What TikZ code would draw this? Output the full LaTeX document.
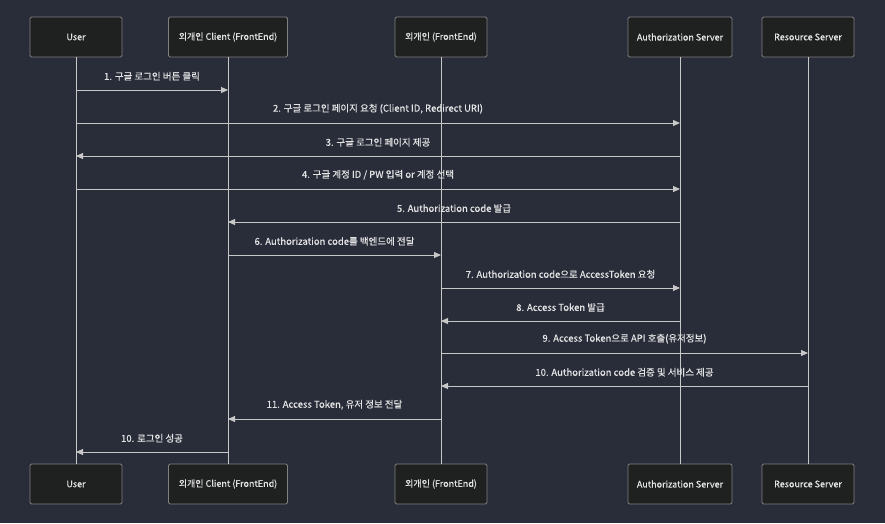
\documentclass[tikz,border=0pt]{standalone}
\usepackage{fontspec}
\setmainfont{Noto Sans CJK KR}[FakeBold=0.4]
\usetikzlibrary{arrows.meta}
\definecolor{bg}{RGB}{41,45,58}
\definecolor{boxfill}{RGB}{31,32,32}
\definecolor{boxline}{RGB}{128,128,128}
\definecolor{ln}{RGB}{200,200,200}
\definecolor{txt}{RGB}{228,228,228}
\begin{document}
\begin{tikzpicture}[x=1pt,y=-1pt,
  actor/.style={draw=boxline, fill=boxfill, rounded corners=1.5pt, minimum height=40pt,
    text=txt, font=\fontsize{9}{11}\selectfont, line width=0.8pt, inner sep=0pt},
  life/.style={draw=ln, line width=0.9pt},
  msg/.style={draw=ln, line width=0.9pt, -{Triangle[length=7pt,width=6pt]}},
  lbl/.style={text=txt, font=\fontsize{9.5}{11}\selectfont, inner sep=0pt}]
\fill[bg] (0,0) rectangle (885,523);
\useasboundingbox (0,0) rectangle (885,523);
% top actors
\node[actor, minimum width=92pt] (uT) at (76,37) {User};
\node[actor, minimum width=119pt] (cT) at (228,37) {외개인 Client (FrontEnd)};
\node[actor, minimum width=92pt] (fT) at (441,37) {외개인 (FrontEnd)};
\node[actor, minimum width=104pt] (aT) at (680,37) {Authorization Server};
\node[actor, minimum width=92pt] (rT) at (808,37) {Resource Server};
% bottom actors
\node[actor, minimum width=92pt] (uB) at (76,484) {User};
\node[actor, minimum width=119pt] (cB) at (228,484) {외개인 Client (FrontEnd)};
\node[actor, minimum width=92pt] (fB) at (441,484) {외개인 (FrontEnd)};
\node[actor, minimum width=104pt] (aB) at (680,484) {Authorization Server};
\node[actor, minimum width=92pt] (rB) at (808,484) {Resource Server};
% lifelines
\draw[life] (uT) -- (uB);
\draw[life] (cT) -- (cB);
\draw[life] (fT) -- (fB);
\draw[life] (aT) -- (aB);
\draw[life] (rT) -- (rB);
% message rows
\coordinate (m1) at (0,90);
\coordinate (m2) at (0,123);
\coordinate (m3) at (0,156);
\coordinate (m4) at (0,189);
\coordinate (m5) at (0,222);
\coordinate (m6) at (0,255);
\coordinate (m7) at (0,288);
\coordinate (m8) at (0,321);
\coordinate (m9) at (0,353);
\coordinate (m10) at (0,386);
\coordinate (m11) at (0,419);
\coordinate (m12) at (0,452);
\draw[msg] (uT |- m1) -- node[lbl, above=9pt] {1. 구글 로그인 버튼 클릭} (cT |- m1);
\draw[msg] (uT |- m2) -- node[lbl, above=9pt] {2. 구글 로그인 페이지 요청 (Client ID, Redirect URI)} (aT |- m2);
\draw[msg] (aT |- m3) -- node[lbl, above=9pt] {3. 구글 로그인 페이지 제공} (uT |- m3);
\draw[msg] (uT |- m4) -- node[lbl, above=9pt] {4. 구글 계정 ID / PW 입력 or 계정 선택} (aT |- m4);
\draw[msg] (aT |- m5) -- node[lbl, above=9pt] {5. Authorization code 발급} (cT |- m5);
\draw[msg] (cT |- m6) -- node[lbl, above=9pt] {6. Authorization code를 백엔드에 전달} (fT |- m6);
\draw[msg] (fT |- m7) -- node[lbl, above=9pt] {7. Authorization code으로 AccessToken 요청} (aT |- m7);
\draw[msg] (aT |- m8) -- node[lbl, above=9pt] {8. Access Token 발급} (fT |- m8);
\draw[msg] (fT |- m9) -- node[lbl, above=9pt] {9. Access Token으로 API 호출(유저정보)} (rT |- m9);
\draw[msg] (rT |- m10) -- node[lbl, above=9pt] {10. Authorization code 검증 및 서비스 제공} (fT |- m10);
\draw[msg] (fT |- m11) -- node[lbl, above=9pt] {11. Access Token, 유저 정보 전달} (cT |- m11);
\draw[msg] (cT |- m12) -- node[lbl, above=9pt] {10. 로그인 성공} (uT |- m12);
\end{tikzpicture}
\end{document}
